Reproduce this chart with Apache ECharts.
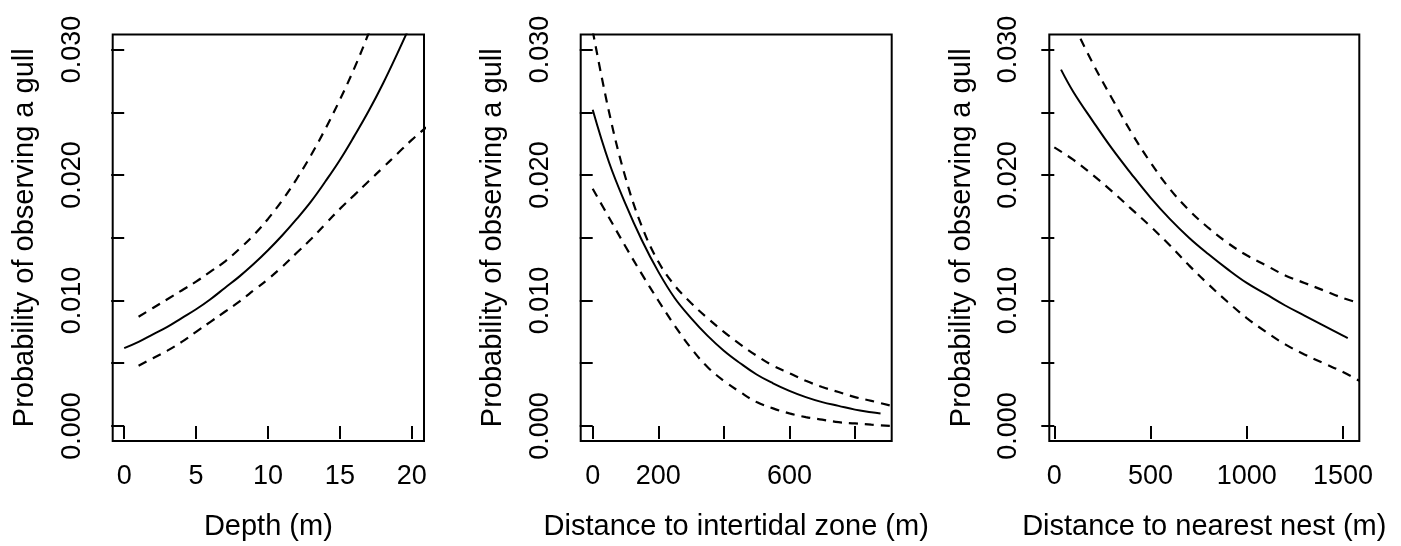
<!DOCTYPE html>
<html lang="en">
<head>
<meta charset="UTF-8">
<title>Probability of observing a gull</title>
<script src="https://cdn.jsdelivr.net/npm/echarts@6/dist/echarts.min.js"></script>
<style>
    * { margin: 0; padding: 0; }
    html, body { background: #fff; }
    #chart { width: 1401px; height: 546px; }
</style>
</head>
<body>
<div id="chart"></div>
<script>
    // y axis, shared by the three panels
    const yTicks = [0, 0.005, 0.01, 0.015, 0.02, 0.025, 0.03]
    const yLabels = [0, 0.01, 0.02, 0.03]
    const yTitle = 'Probability of observing a gull'

    // depth panel
    const depthTicks = [0, 5, 10, 15, 20]
    const depthFitX = [0, 1, 2, 3, 4, 5, 6, 7, 8, 9, 10, 11, 12, 13, 14, 15, 16, 17, 18, 19, 20]
    const depthFit = [0.0062, 0.0067, 0.0073, 0.0079, 0.0086, 0.0093, 0.0101, 0.0110, 0.0119, 0.0129, 0.0140,
        0.0152, 0.0165, 0.0179, 0.0195, 0.0212, 0.0231, 0.0251, 0.0273, 0.0297, 0.0322]
    const depthCiX = [1, 2, 3, 4, 5, 6, 7, 8, 9, 10, 11, 12, 13, 14, 15, 16, 17, 18, 19, 20, 21]
    const depthUpper = [0.0087, 0.0094, 0.0101, 0.0108, 0.0115, 0.0123, 0.0131, 0.0141, 0.0152, 0.0165,
        0.0180, 0.0197, 0.0216, 0.0237, 0.0260, 0.0285, 0.0313, 0.0343]
    const depthLower = [0.0048, 0.0054, 0.0060, 0.0067, 0.0075, 0.0083, 0.0091, 0.0099, 0.0108, 0.0117,
        0.0127, 0.0138, 0.0149, 0.0161, 0.0173, 0.0184, 0.0195, 0.0206, 0.0217, 0.0228, 0.0238]

    // distance to intertidal zone panel
    const tideTicks = [0, 200, 400, 600, 800]
    const tideLabels = [0, 200, 600]
    const tideFitX = [0, 50, 100, 150, 200, 250, 300, 350, 400, 450, 500, 550, 600, 650, 700, 750, 800, 850, 878]
    const tideFit = [0.0252, 0.0210, 0.0177, 0.0148, 0.0123, 0.0102, 0.0086, 0.0072, 0.0060, 0.0050,
        0.0041, 0.0034, 0.0028, 0.0023, 0.0019, 0.0016, 0.0013, 0.0011, 0.0010]
    const tideCiX = [0, 50, 100, 150, 200, 250, 300, 350, 400, 450, 500, 550, 600, 650, 700, 750, 800, 850, 912]
    const tideUpper = [0.0315, 0.0250, 0.0198, 0.0159, 0.0131, 0.0112, 0.0098, 0.0086, 0.0075, 0.0065,
        0.0056, 0.0048, 0.0042, 0.0036, 0.0031, 0.0027, 0.0023, 0.0020, 0.0016]
    const tideLower = [0.0189, 0.0166, 0.0143, 0.0121, 0.0100, 0.0080, 0.0062, 0.0047, 0.0036, 0.0027,
        0.0019, 0.0014, 0.0010, 0.0007, 0.0005, 0.0003, 0.0002, 0.0001, 0.0000]

    // distance to nearest nest panel
    const nestTicks = [0, 500, 1000, 1500]
    const nestFitX = [35, 100, 200, 300, 400, 500, 600, 700, 800, 900, 1000, 1100, 1200, 1300, 1400, 1500, 1525]
    const nestFit = [0.0284, 0.0266, 0.0243, 0.0221, 0.0201, 0.0182, 0.0165, 0.0150, 0.0137, 0.0125,
        0.0114, 0.0105, 0.0096, 0.0088, 0.0080, 0.0072, 0.0070]
    const nestUpperX = [100, 200, 300, 400, 500, 600, 700, 800, 900, 1000, 1100, 1200, 1300, 1400, 1500, 1585]
    const nestUpper = [0.0320, 0.0289, 0.0261, 0.0234, 0.0210, 0.0189, 0.0172, 0.0158, 0.0146, 0.0136,
        0.0128, 0.0120, 0.0114, 0.0108, 0.0102, 0.0098]
    const nestLowerX = [0, 100, 200, 300, 400, 500, 600, 700, 800, 900, 1000, 1100, 1200, 1300, 1400, 1500, 1585]
    const nestLower = [0.0222, 0.0212, 0.0200, 0.0187, 0.0173, 0.0159, 0.0144, 0.0128, 0.0113, 0.0099,
        0.0086, 0.0075, 0.0065, 0.0057, 0.0050, 0.0043, 0.0036]

    const zip = (xs, ys) => ys.map((y, i) => [xs[i], y])

    const font = 'Liberation Sans, Arial, sans-serif'
    const panels = [
        {left: 112.7, width: 311.3, min: -0.8, max: 20.85, ticks: depthTicks, labels: depthTicks,
            title: 'Depth (m)', fit: zip(depthFitX, depthFit),
            upper: zip(depthCiX, depthUpper), lower: zip(depthCiX, depthLower)},
        {left: 580.7, width: 311, min: -36.6, max: 912, ticks: tideTicks, labels: tideLabels,
            title: 'Distance to intertidal zone (m)', fit: zip(tideFitX, tideFit),
            upper: zip(tideCiX, tideUpper), lower: zip(tideCiX, tideLower)},
        {left: 1049.3, width: 310, min: -26, max: 1585, ticks: nestTicks, labels: nestTicks,
            title: 'Distance to nearest nest (m)', fit: zip(nestFitX, nestFit),
            upper: zip(nestUpperX, nestUpper), lower: zip(nestLowerX, nestLower)}
    ]

    const tickStyle = {color: '#000', width: 2}

    let option = {
        backgroundColor: '#fff',
        animation: false,
        textStyle: {fontFamily: font, color: '#000'},
        grid: [], xAxis: [], yAxis: [], series: []
    }

    panels.forEach((p, i) => {
        option.grid.push({
            left: p.left, top: 34.5, width: p.width, height: 409.5,
            show: true, borderColor: '#000', borderWidth: 2, backgroundColor: 'transparent'
        })
        option.xAxis.push({
            type: 'value', gridIndex: i, min: p.min, max: p.max,
            axisLine: {show: false},
            splitLine: {show: false},
            axisTick: {show: true, length: 13, lineStyle: tickStyle, customValues: p.ticks},
            axisLabel: {
                customValues: p.labels, margin: 22, fontSize: 27, color: '#000', fontFamily: font,
                formatter: v => String(v)
            },
            name: p.title, nameLocation: 'middle', nameGap: 71,
            nameTextStyle: {fontSize: 29, color: '#000', fontFamily: font}
        })
        option.yAxis.push({
            type: 'value', gridIndex: i, min: -0.0012, max: 0.0312,
            axisLine: {show: false},
            splitLine: {show: false},
            axisTick: {show: true, length: 13, lineStyle: tickStyle, customValues: yTicks},
            axisLabel: {
                customValues: yLabels, rotate: 90, margin: 27, fontSize: 27, color: '#000', fontFamily: font,
                formatter: v => v.toFixed(3)
            },
            name: yTitle, nameLocation: 'middle', nameGap: 73, nameRotate: 90,
            nameTextStyle: {fontSize: 29, color: '#000', fontFamily: font}
        })
        const line = (data, dashed) => ({
            type: 'line', xAxisIndex: i, yAxisIndex: i, data: data,
            showSymbol: false, smooth: 0.4, clip: true, silent: true,
            lineStyle: {color: '#000', width: dashed ? 2.2 : 2, type: dashed ? [9, 7] : 'solid'}
        })
        option.series.push(line(p.fit, false), line(p.upper, true), line(p.lower, true))
    })

    const chart = echarts.init(document.getElementById('chart'))
    chart.setOption(option)
</script>
</body>
</html>
